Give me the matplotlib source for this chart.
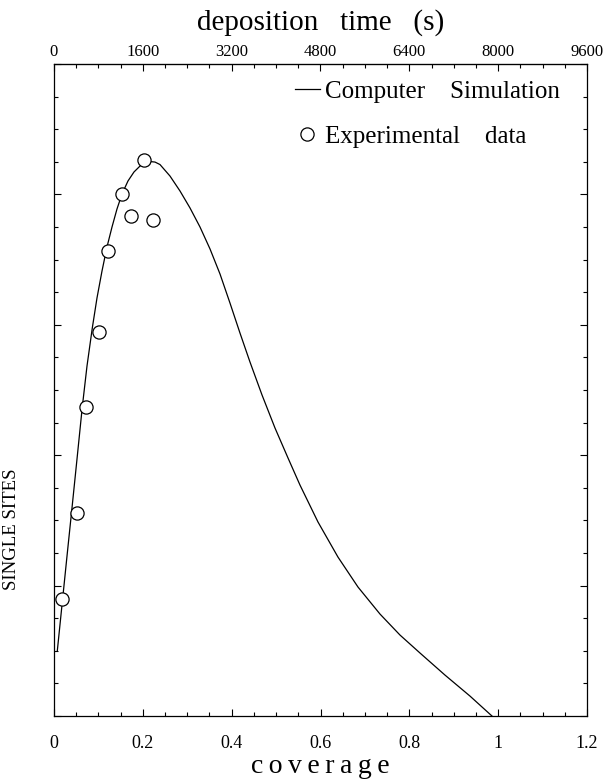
import numpy as np
import matplotlib.pyplot as plt
from matplotlib.ticker import MultipleLocator, NullFormatter, FixedLocator
from matplotlib.lines import Line2D

plt.rcParams['font.family'] = ['Liberation Serif', 'DejaVu Serif']

# simulation curve (coverage, single sites in arbitrary units)
sim_cov = [0.0074, 0.0180, 0.0293, 0.0405, 0.0518, 0.0637, 0.0743, 0.0862, 0.0968, 0.1081,
           0.1193, 0.1306, 0.1418, 0.1531, 0.1666, 0.1801, 0.1959, 0.2161, 0.2274, 0.2386,
           0.2611, 0.2837, 0.3062, 0.3287, 0.3512, 0.3737, 0.3962, 0.4187, 0.4412, 0.4683,
           0.4975, 0.5268, 0.5538, 0.5943, 0.6393, 0.6844, 0.7339, 0.7789, 0.8240, 0.8802,
           0.9365, 0.9860]
sim_val = [0.498, 0.851, 1.227, 1.595, 1.971, 2.370, 2.684, 2.975, 3.206, 3.413,
           3.597, 3.750, 3.888, 4.003, 4.103, 4.172, 4.225, 4.252, 4.248, 4.229,
           4.141, 4.026, 3.896, 3.750, 3.582, 3.390, 3.167, 2.937, 2.715, 2.462,
           2.209, 1.979, 1.771, 1.488, 1.219, 0.989, 0.782, 0.621, 0.483, 0.314,
           0.153, 0.0]

# experimental points
exp_cov = [0.0187, 0.0511, 0.0714, 0.1020, 0.1222, 0.1524, 0.1727, 0.2026, 0.2222]
exp_val = [0.897, 1.557, 2.370, 2.947, 3.566, 4.003, 3.837, 4.264, 3.804]

time_ticks = [0, 1600, 3200, 4800, 6400, 8000, 9600]

fig = plt.figure(figsize=(6.05, 7.83), dpi=100)
ax = fig.add_axes([54/605, 1-716/783, (587-54)/605, (716-64)/783])

ax.plot(sim_cov, sim_val, color='black', lw=0.9)
ax.plot(exp_cov, exp_val, ls='none', marker='o', ms=9.5, mfc='white',
        mec='black', mew=0.9)

ax.set_xlim(0, 1.2)
ax.set_ylim(0, 5)
ax.xaxis.set_minor_locator(MultipleLocator(0.05))
ax.yaxis.set_major_locator(MultipleLocator(1))
ax.yaxis.set_minor_locator(MultipleLocator(0.25))
ax.yaxis.set_major_formatter(NullFormatter())
ax.set_xticks([0, 0.2, 0.4, 0.6, 0.8, 1.0, 1.2])
ax.set_xticklabels(['0', '0.2', '0.4', '0.6', '0.8', '1', '1.2'], fontsize=13)
ax.tick_params(which='both', direction='in', right=True, top=False, width=0.8)
ax.tick_params(which='major', length=5)
ax.tick_params(which='minor', length=3)
ax.tick_params(axis='x', pad=14)
for s in ax.spines.values():
    s.set_linewidth(0.9)

top = ax.secondary_xaxis('top', functions=(lambda c: c * 8000, lambda t: t / 8000))
top.xaxis.set_major_locator(FixedLocator(time_ticks))
top.xaxis.set_minor_locator(MultipleLocator(400))
top.set_xticklabels([str(t) for t in time_ticks])
top.tick_params(which='both', direction='in', width=0.8, labelsize=12, pad=3)
top.tick_params(which='major', length=5)
top.tick_params(which='minor', length=3)
top.set_xlabel('deposition   time   (s)', fontsize=21, labelpad=10)

ax.set_xlabel('c\u2009o\u2009v\u2009e\u2009r\u2009a\u2009g\u2009e', fontsize=20, labelpad=1)
fig.text(12/605, 1-529/783, 'SINGLE SITES', rotation=90, ha='center', va='center',
         fontsize=13.5)

handles = [Line2D([], [], color='black', lw=0.9),
           Line2D([], [], ls='none', marker='o', ms=9.5, mfc='white', mec='black', mew=0.9)]
ax.legend(handles, ['Computer    Simulation', 'Experimental    data'], frameon=False,
          loc='upper left', bbox_to_anchor=(0.433, 0.99), fontsize=18,
          handlelength=1.0, handletextpad=0.2, labelspacing=0.9, borderaxespad=0)

fig.savefig('out.png', dpi=100)
